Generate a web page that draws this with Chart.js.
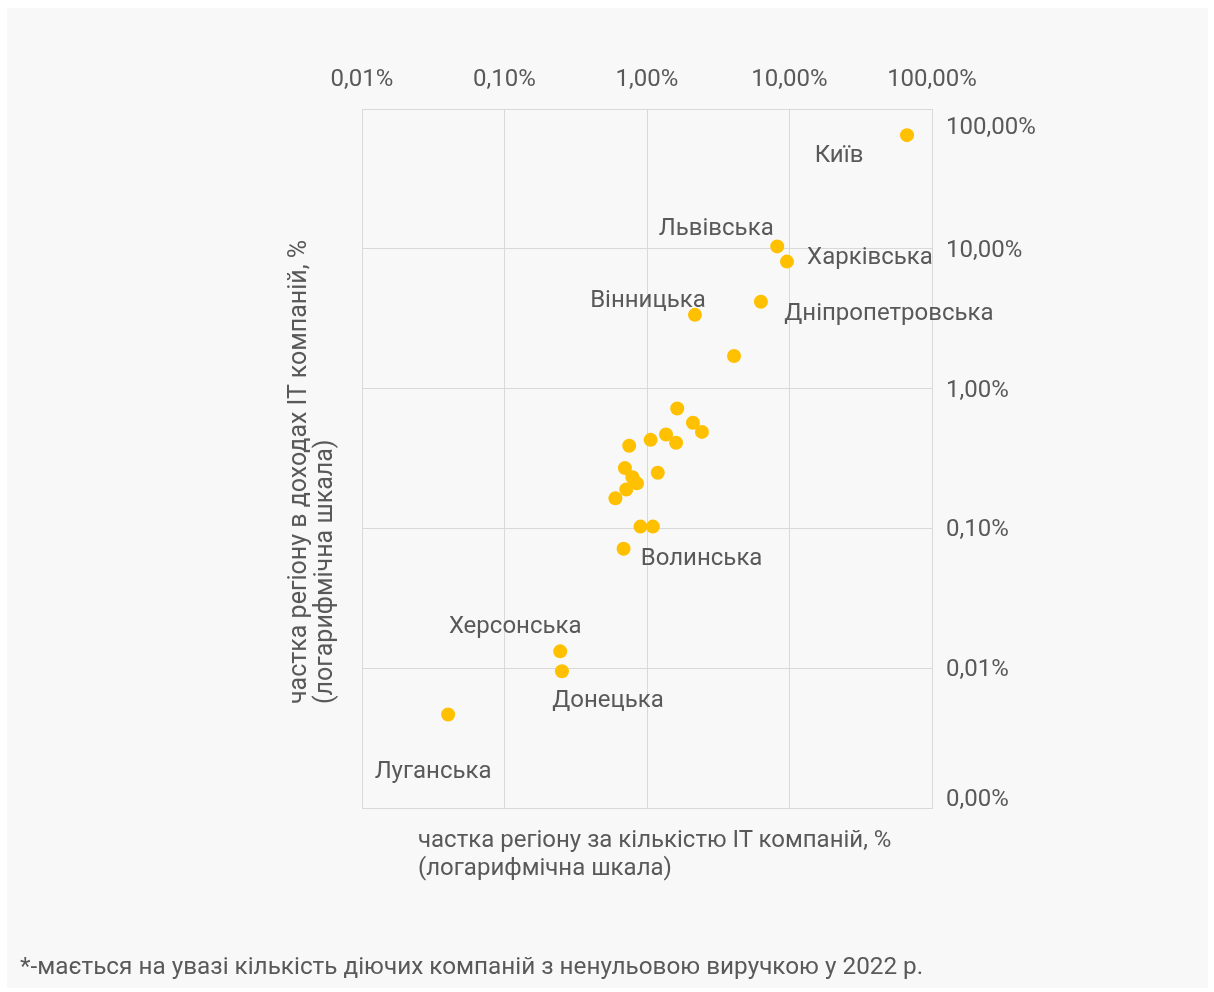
<!DOCTYPE html>
<html lang="uk">
<head>
<meta charset="utf-8">
<title>Частка регіонів у кількості та доходах IT компаній</title>
<script src="https://cdn.jsdelivr.net/npm/chart.js@4/dist/chart.umd.min.js"></script>
<style>
  html, body { margin: 0; padding: 0; background: #ffffff; }
  body { width: 1214px; height: 992px; position: relative; overflow: hidden; font-family: Roboto, "Noto Sans", sans-serif; color: #595959; }
  .card { position: absolute; left: 7px; top: 8px; width: 1201px; height: 980px; background: #f8f8f8; }
  #chart { position: absolute; left: 0; top: 0; }
  .ytitle { position: absolute; left: 285px; top: 704px; transform-origin: 0 0; transform: rotate(-90deg); font-size: 25px; line-height: 26px; white-space: nowrap; }
  .xtitle { position: absolute; left: 418px; top: 825px; font-size: 24px; line-height: 28px; white-space: nowrap; }
  .note { position: absolute; left: 20px; top: 952px; font-size: 24.3px; line-height: 28px; white-space: nowrap; }
</style>
</head>
<body>
<div class="card"></div>
<canvas id="chart" width="1214" height="992"></canvas>
<div class="ytitle">частка регіону в доходах IT компаній, %<br>(логарифмічна шкала)</div>
<div class="xtitle">частка регіону за кількістю IT компаній, %<br>(логарифмічна шкала)</div>
<div class="note">*-мається на увазі кількість діючих компаній з ненульовою виручкою у 2022 р.</div>
<script>
// Regions (only the named ones carry a label on the chart)
const regions = [
  'Київ', 'Львівська', 'Харківська', 'Дніпропетровська', 'Вінницька', '',
  '', '', '', '', '', '', '', '', '', '', '', '', '', '', '',
  'Волинська', 'Херсонська', 'Донецька', 'Луганська'
];
// Share of the region in the number of IT companies, %
const shareCompanies = [
  66.8, 8.2, 9.6, 6.3, 2.17, 4.08,
  1.63, 2.1, 2.43, 1.36, 1.06, 1.6, 0.75, 0.70, 1.19, 0.79, 0.85, 0.715, 0.6, 0.9, 1.1,
  0.685, 0.246, 0.253, 0.0402
];
// Share of the region in IT companies' revenue, %
const shareRevenue = [
  65, 10.4, 8.1, 4.18, 3.37, 1.71,
  0.72, 0.57, 0.49, 0.47, 0.43, 0.41, 0.39, 0.27, 0.25, 0.232, 0.21, 0.19, 0.164, 0.103, 0.103,
  0.0715, 0.0132, 0.0095, 0.00466
];
// Axis ticks (decades)
const xTicks = [0.01, 0.1, 1, 10, 100];
const yTicks = [0.001, 0.01, 0.1, 1, 10, 100];

// Where each region name sits relative to its point (text centre offset, px)
const labelOffsets = {
  'Київ': [-68, 21],
  'Львівська': [-61, -17],
  'Харківська': [83, -4],
  'Дніпропетровська': [128, 12],
  'Вінницька': [-47, -14],
  'Волинська': [78, 10],
  'Херсонська': [-45, -24],
  'Донецька': [46, 30],
  'Луганська': [-15, 57]
};

const textColor = '#595959';
const gridColor = '#d9d9d9';
const fontFamily = 'Roboto, "Noto Sans", sans-serif';

const fmtPct = v => v.toFixed(2).replace('.', ',') + '%';

const pointLabels = {
  id: 'pointLabels',
  afterDatasetsDraw(chart) {
    const ctx = chart.ctx;
    const meta = chart.getDatasetMeta(0);
    ctx.save();
    ctx.font = '24px ' + fontFamily;
    ctx.fillStyle = textColor;
    ctx.textAlign = 'center';
    ctx.textBaseline = 'middle';
    regions.forEach((name, i) => {
      if (!name) return;
      const el = meta.data[i];
      const off = labelOffsets[name] || [0, -20];
      ctx.fillText(name, el.x + off[0], el.y + off[1]);
    });
    ctx.restore();
  }
};

new Chart(document.getElementById('chart'), {
  type: 'scatter',
  data: {
    datasets: [{
      data: shareCompanies.map((x, i) => ({ x: x, y: shareRevenue[i] })),
      backgroundColor: '#FFC000',
      borderWidth: 0,
      pointRadius: 7,
      pointHoverRadius: 7
    }]
  },
  options: {
    responsive: false,
    devicePixelRatio: 1,
    animation: false,
    layout: { padding: { left: 362, top: 59, right: 162, bottom: 184 } },
    plugins: { legend: { display: false }, tooltip: { enabled: false } },
    scales: {
      x: {
        type: 'logarithmic',
        position: 'top',
        min: 0.01,
        max: 100,
        afterBuildTicks: s => { s.ticks = xTicks.map(v => ({ value: v })); },
        afterFit: s => { s.height = 50; },
        grid: { color: gridColor, lineWidth: 1, drawTicks: false },
        border: { display: true, color: gridColor },
        ticks: {
          padding: 15,
          color: textColor,
          font: { family: fontFamily, size: 24 },
          maxRotation: 0,
          autoSkip: false,
          callback: v => fmtPct(v)
        }
      },
      y: {
        type: 'logarithmic',
        position: 'right',
        min: 0.001,
        max: 100,
        afterBuildTicks: s => { s.ticks = yTicks.map(v => ({ value: v })); },
        afterFit: s => { s.width = 120; },
        grid: { color: gridColor, lineWidth: 1, drawTicks: false },
        border: { display: true, color: gridColor },
        ticks: {
          padding: 14,
          labelOffset: 2,
          color: textColor,
          autoSkip: false,
          font: ctx => {
            const v = ctx.tick ? ctx.tick.value : null;
            let lh = 1.2;
            if (v === 100) lh = 1.42;
            if (v === 0.001) lh = 0.85;
            return { family: fontFamily, size: 24, lineHeight: lh };
          },
          callback: v => {
            if (v === 100) return ['', fmtPct(v)];
            if (v === 0.001) return [fmtPct(v), ''];
            return fmtPct(v);
          }
        }
      }
    }
  },
  plugins: [pointLabels]
});
</script>
</body>
</html>
